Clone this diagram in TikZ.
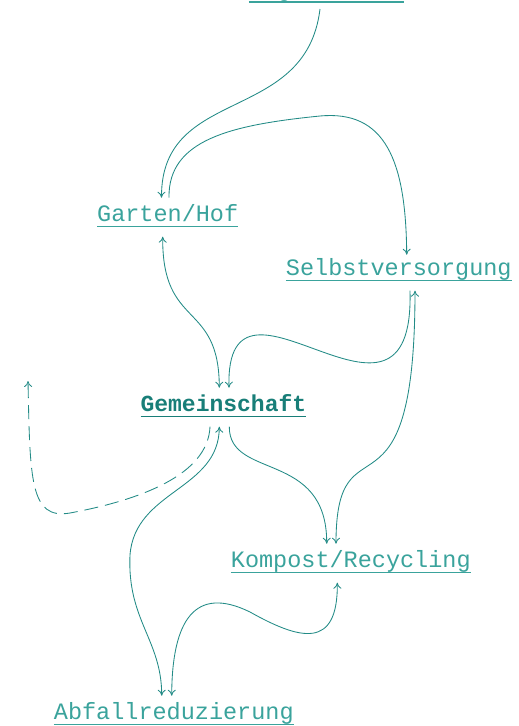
\documentclass[tikz,border=0pt]{standalone}
\usepackage{fontspec}
\usetikzlibrary{arrows.meta}
\newfontfamily\lblfont{Liberation Mono}
\definecolor{edgec}{RGB}{34,139,134}
\definecolor{txtc}{RGB}{58,163,156}
\definecolor{boldc}{RGB}{24,126,120}
\begin{document}
\begin{tikzpicture}[x=1pt,y=-1pt,
  lbl/.style={font={\lblfont\fontsize{23.5}{28}\selectfont}, text=txtc, inner sep=0pt,
    outer xsep=0pt, outer ysep=10pt, text height=13.5pt, text depth=5.5pt, anchor=base},
  boldlbl/.style={lbl, font={\lblfont\bfseries\fontsize{23}{28}\selectfont}, text=boldc},
  ul/.style={draw=txtc, line width=1.3pt},
  conn/.style={draw=edgec, line width=0.85pt},
  >={To[length=6pt,width=8pt]}]
\fill[white] (0,0) rectangle (519,726);
\useasboundingbox (0,0) rectangle (519,726);

\node[lbl] (top) at (326.5,-3.5) {Regenwasser};
\node[lbl] (gart) at (167.7,221.2) {Garten/Hof};
\node[lbl] (selb) at (398.8,275.2) {Selbstversorgung};
\node[boldlbl] (gem) at (223.4,411.2) {Gemeinschaft};
\node[lbl] (komp) at (350.8,567.2) {Kompost/Recycling};
\node[lbl] (abf) at (173.8,719.2) {Abfallreduzierung};

\foreach \n in {top,gart,selb,komp,abf}
  \draw[ul] ([yshift=10pt]\n.south west) -- ([yshift=10pt]\n.south east);
\draw[ul, draw=boldc] ([yshift=10pt]gem.south west) -- ([yshift=10pt]gem.south east);

\coordinate (loose) at (28,381);

\draw[conn,->] ([xshift=-6.5pt,yshift=3pt]top.south) .. controls (306,125) and (161,85) .. ([xshift=-6.2pt]gart.north);
\draw[conn,->] ([xshift=1.3pt]gart.north) .. controls (168,140) and (230,125) .. (320,116) .. controls (385,110) and (406,160) .. ([xshift=7.9pt,yshift=-3pt]selb.north);
\draw[conn,<->] ([xshift=-5pt]gart.south) .. controls (162,330) and (219,300) .. ([xshift=-4.1pt]gem.north);
\draw[conn,->] ([xshift=11.2pt]selb.south) .. controls (415,470) and (225,240) .. ([xshift=5.6pt]gem.north);
\draw[conn,->,dash pattern=on 14pt off 7pt] ([xshift=-13.4pt]gem.south) .. controls (208,475) and (140,500) .. (70,513) .. controls (30,520) and (30,480) .. (loose);
\draw[conn,<->] ([xshift=-4.1pt]gem.south) .. controls (219,490) and (135,490) .. (130,555) .. controls (127,620) and (161.7,640) .. ([xshift=-12.1pt]abf.north);
\draw[conn,->] ([xshift=5.9pt]gem.south) .. controls (229,480) and (327,450) .. ([xshift=-24.1pt]komp.north);
\draw[conn,<->] ([xshift=16.2pt]selb.south) .. controls (415,540) and (336,410) .. ([xshift=-14.8pt]komp.north);
\draw[conn,<->] ([xshift=-13.5pt]komp.south) .. controls (338,650) and (300,640) .. (250,612) .. controls (195,585) and (172,620) .. ([xshift=-2.1pt]abf.north);
\end{tikzpicture}
\end{document}
